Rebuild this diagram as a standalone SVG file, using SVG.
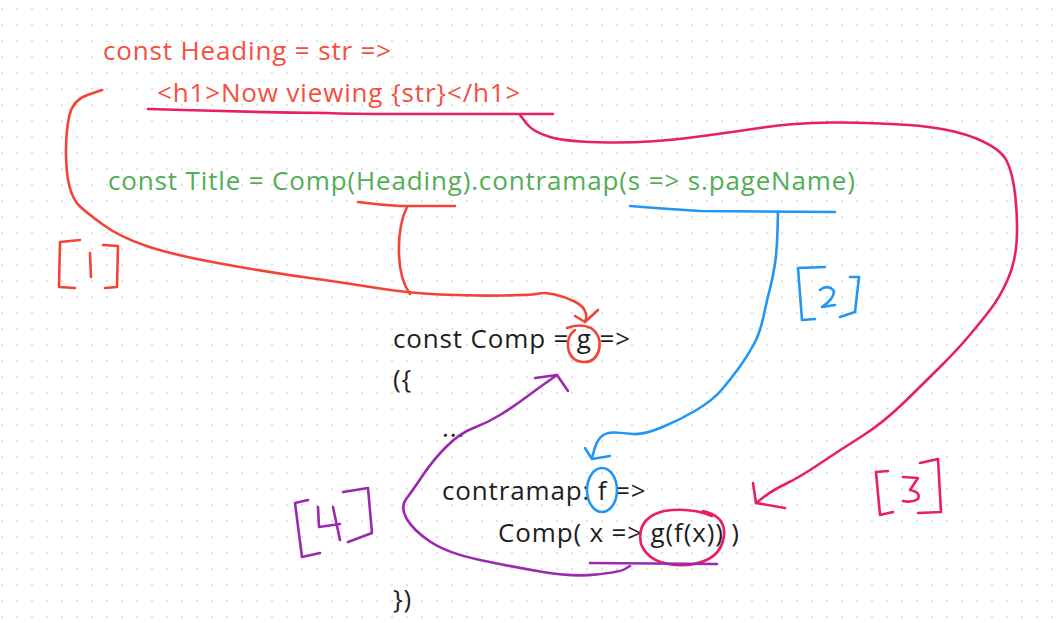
<svg xmlns="http://www.w3.org/2000/svg" width="1064" height="623" viewBox="0 0 1064 623">
<defs>
<pattern id="dots" x="0" y="0" width="15" height="16" patternUnits="userSpaceOnUse">
<circle cx="2" cy="9" r="1" fill="#d9d9d9"/>
</pattern>
<style>
.t{font-family:"Open Sans","Noto Sans",sans-serif;font-size:26px;letter-spacing:0.85px}
.red{fill:#f44f3f}
.green{fill:#52ad55}
.black{fill:#1e1e1e}
.s{fill:none;stroke-width:2.6;stroke-linecap:round;stroke-linejoin:round}
.sr{stroke:#f44336}
.sc{stroke:#e91e63}
.sb{stroke:#2196f3}
.sp{stroke:#9c27b0}
</style>
</defs>
<rect width="1064" height="623" fill="#ffffff"/>
<rect width="1064" height="623" fill="url(#dots)"/>

<g id="heading-code">
<text class="t red" x="103" y="60">const Heading = str =&gt;</text>
<text class="t red" x="157" y="102">&lt;h1&gt;Now viewing {str}&lt;/h1&gt;</text>
</g>
<g id="title-code">
<text class="t green" x="108" y="190">const Title = Comp(Heading).contramap(s =&gt; s.pageName)</text>
</g>
<g id="comp-code">
<text class="t black" x="393" y="348">const Comp = g =&gt;</text>
<text class="t black" x="393" y="388">({</text>
<text class="t black" x="442" y="437">...</text>
<text class="t black" x="442" y="500">contramap: f =&gt;</text>
<text class="t black" x="498" y="542">Comp( x =&gt; g(f(x)) )</text>
<text class="t black" x="393" y="608">})</text>
</g>

<g id="connectors">
<!-- [1] red -->
<path class="s sr" d="M358,202 Q380,205 400,206 L455,206"/>
<path class="s sr" d="M407,207 Q398,225 399,255 Q400,280 410,294"/>
<path class="s sr" d="M102,90 L87.5,95 Q73,100 69.5,115 Q66,130 66,151.5 Q66,173 69.5,186.5 Q73,200 80,206.5 Q87,213 103.5,225 Q120,237 146.5,246 Q173,255 223,264 Q273,273 306.5,277.5 Q340,282 373.5,287.5 Q407,293 440,294.5 Q473,296 503,295.5 Q533,295 539,293.5 Q545,292 555,294.5 Q565,297 573.5,301 Q582,305 584.5,310 Q587,315 586,318.5 L585,322"/>
<path class="s sr" d="M575,316 L585,322 L598,310"/>
<path class="s sr" d="M567,328 Q580,323 591,328 Q602,336 599,350 Q595,363 583,362 Q570,361 568,347 Q567,336 575,330"/>
<!-- [2] blue -->
<path class="s sb" d="M630,206 Q665,209 700,211 L835,212"/>
<path class="s sb" d="M778,212 L777.5,231 Q777,250 775,263.5 Q773,277 770,288.5 Q767,300 763.5,316.5 Q760,333 753.5,345 Q747,357 738.5,368.5 Q730,380 721.5,390 Q713,400 696.5,410 Q680,420 661.5,427.5 Q643,435 633,434 Q623,433 615,432.5 Q607,432 602,436 Q597,440 594.5,449 L592,458"/>
<path class="s sb" d="M585,448 L592,459 L610,456"/>
<ellipse class="s sb" cx="602" cy="490" rx="15" ry="22"/>
<!-- [3] crimson -->
<path class="s sc" d="M148,109 Q240,112 327,113 Q345,114 400,114 L553,114"/>
<path class="s sc" d="M520,115 L526.5,123.5 Q533,132 550,137 Q567,142 608.5,142.5 Q650,143 691.5,137.5 Q733,132 763,127.5 Q793,123 830,122.5 Q867,122 908.5,125 Q950,128 975,138 Q1000,148 1006.5,160.5 Q1013,173 1015.5,198 Q1018,223 1016.5,243 Q1015,263 1007.5,280 Q1000,297 990,310 Q980,323 968.5,336.5 Q957,350 942,365 Q927,380 905,401.5 Q883,423 861.5,436.5 Q840,450 820,463.5 Q800,477 786.5,483.5 Q773,490 764.5,496.5 L756,503"/>
<path class="s sc" d="M753,483 L756,503 L785,508"/>
<path class="s sc" d="M703,511 Q726,516 724,536 Q721,561 688,565 Q650,567 641,544 Q636,518 664,511 Q690,507 712,516"/>
<!-- [4] purple -->
<path class="s sp" d="M590,563 L717,564"/>
<path class="s sp" d="M630,566 L625,569 Q620,572 596.5,574.5 Q573,577 543,572 Q513,567 480,560 Q447,553 430,541.5 Q413,530 406.5,518.5 Q400,507 406.5,498.5 Q413,490 423,475 Q433,460 446.5,446.5 Q460,433 473.5,428 Q487,423 500,415 Q513,407 526.5,397 Q540,387 548.5,381 L557,375"/>
<path class="s sp" d="M535,378 L557,375 L568,391"/>
</g>

<g id="label-1">
<path class="s sr" d="M80,240 L60,242 L59,287 L75,288 M90,253 L91,277 M103,245 L118,246 L117,287 L105,288"/>
</g>
<g id="label-2">
<path class="s sb" d="M825,267 L798,268 L802,320 L815,319 M820,290 Q828,284 834,291 Q834,299 822,307 L835,305 M850,277 L859,277 L855,312 L840,317"/>
</g>
<g id="label-3">
<path class="s sc" d="M888,471 L876,472 L880,515 L893,512 M903,477 L918,478 L910,490 Q921,492 918,499 Q912,503 903,501 M920,463 L938,459 L941,512 L918,513"/>
</g>
<g id="label-4">
<path class="s sp" d="M308,500 L295,503 L302,557 L320,553 M318,507 L319,527 L340,524 M333,507 L340,540 M343,492 L368,488 L372,533 L348,542"/>
</g>
</svg>
